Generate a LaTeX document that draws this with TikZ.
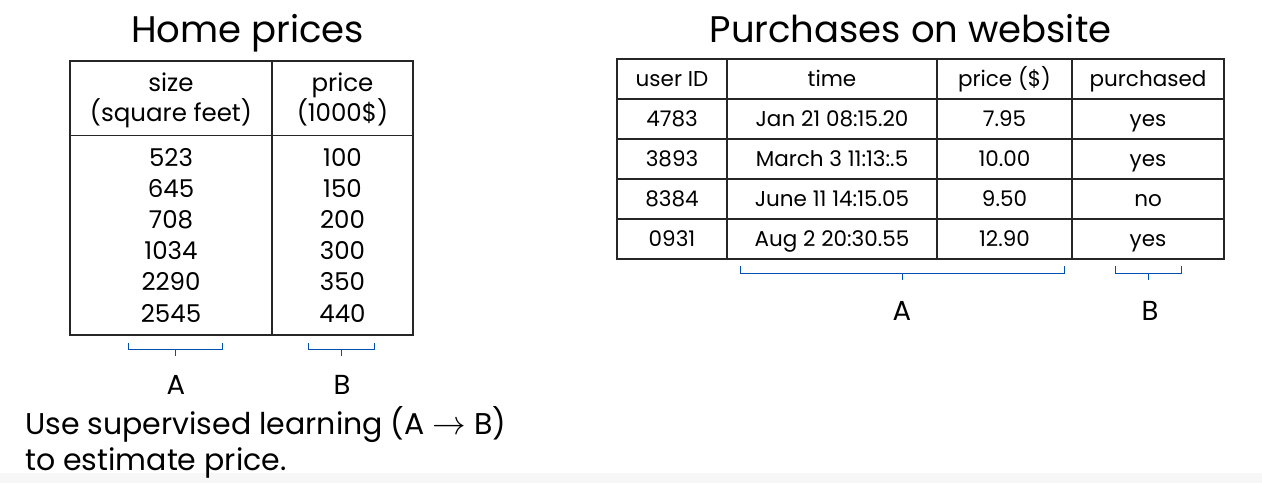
\documentclass[tikz,border=0pt]{standalone}
\usepackage{fontspec}
\setmainfont{Poppins}
\begin{document}
\begin{tikzpicture}[x=1pt,y=-1pt,
  tline/.style={line width=1.6pt,draw=black!85},
  brk/.style={line width=0.9pt,draw=blue!55!cyan!70!black},
  cellL/.style={anchor=base,inner sep=0pt,font=\fontsize{24.5}{28}\selectfont},
  cellR/.style={anchor=base,inner sep=0pt,font=\fontsize{21.5}{24}\selectfont},
  ttl/.style={anchor=base,inner sep=0pt,font=\fontsize{37}{40}\selectfont},
  lbl/.style={anchor=center,inner sep=0pt,font=\fontsize{27.5}{32}\selectfont},
  txt/.style={anchor=base west,inner sep=0pt,font=\fontsize{30}{36}\selectfont}]
\useasboundingbox (0,0) rectangle (1262,483);
\fill[white] (0,0) rectangle (1262,483);
\fill[black!3] (0,473) rectangle (1262,483);
% titles
\node[ttl] (t1) at (247.5,42) {Home prices};
\node[ttl] (t2) at (910.5,42) {Purchases on website};
% left table
\draw[tline] (70,61) rectangle (413,335);
\draw[tline] (272,61) -- (272,335);
\draw[tline] (70,135.5) -- (413,135.5);
\node[cellL] (h1a) at (171,91) {size};
\node[cellL] (h1b) at (171,121) {(square feet)};
\node[cellL] (h2a) at (342.5,91) {price};
\node[cellL] (h2b) at (342.5,121) {(1000\$)};
\foreach \s/\p/\y [count=\i] in {523/100/166,645/150/197,708/200/228.5,1034/300/259.5,2290/350/290.5,2545/440/322}{
  \node[cellL] (ls\i) at (171,\y) {\s};
  \node[cellL] (lp\i) at (342.5,\y) {\p};
}
% left brackets
\draw[brk] (128,343) -- (128,349.5) -- (222,349.5) -- (222,343);
\draw[brk] (175,349.5) -- (175,356);
\draw[brk] (308,343) -- (308,349.5) -- (374,349.5) -- (374,343);
\draw[brk] (341,349.5) -- (341,356);
\node[lbl] (la) at (176,384.5) {A};
\node[lbl] (lb) at (342,384.5) {B};
% bottom text
\node[txt] (u1) at (25,434) {Use supervised learning (A \scalebox{1.35}{$\rightarrow$} B)};
\node[txt] (u2) at (25,470) {to estimate price.};
% right table
\draw[tline] (617,59) rectangle (1224,259);
\foreach \x in {727,937,1072} \draw[tline] (\x,59) -- (\x,259);
\foreach \y in {99,139,179,219} \draw[tline] (617,\y) -- (1224,\y);
\node[cellR] (rh1) at (672,86.5) {user ID};
\node[cellR] (rh2) at (832,86.5) {time};
\node[cellR] (rh3) at (1004.5,86.5) {price (\$)};
\node[cellR] (rh4) at (1148,86.5) {purchased};
\foreach \u/\t/\p/\q/\y [count=\i] in {4783/Jan 21 08:15.20/7.95/yes/126,3893/March 3 11:13:.5/10.00/yes/166,8384/June 11 14:15.05/9.50/no/206,0931/Aug 2 20:30.55/12.90/yes/246}{
  \node[cellR] (ru\i) at (672,\y) {\u};
  \node[cellR] (rt\i) at (832,\y) {\t};
  \node[cellR] (rp\i) at (1004.5,\y) {\p};
  \node[cellR] (rq\i) at (1148,\y) {\q};
}
% right brackets
\draw[brk] (740,266) -- (740,273) -- (1064,273) -- (1064,266);
\draw[brk] (902,273) -- (902,280);
\draw[brk] (1115,266) -- (1115,273) -- (1181,273) -- (1181,266);
\draw[brk] (1148,273) -- (1148,280);
\node[lbl] (ra) at (902,311) {A};
\node[lbl] (rb) at (1150,311) {B};
\end{tikzpicture}
\end{document}
